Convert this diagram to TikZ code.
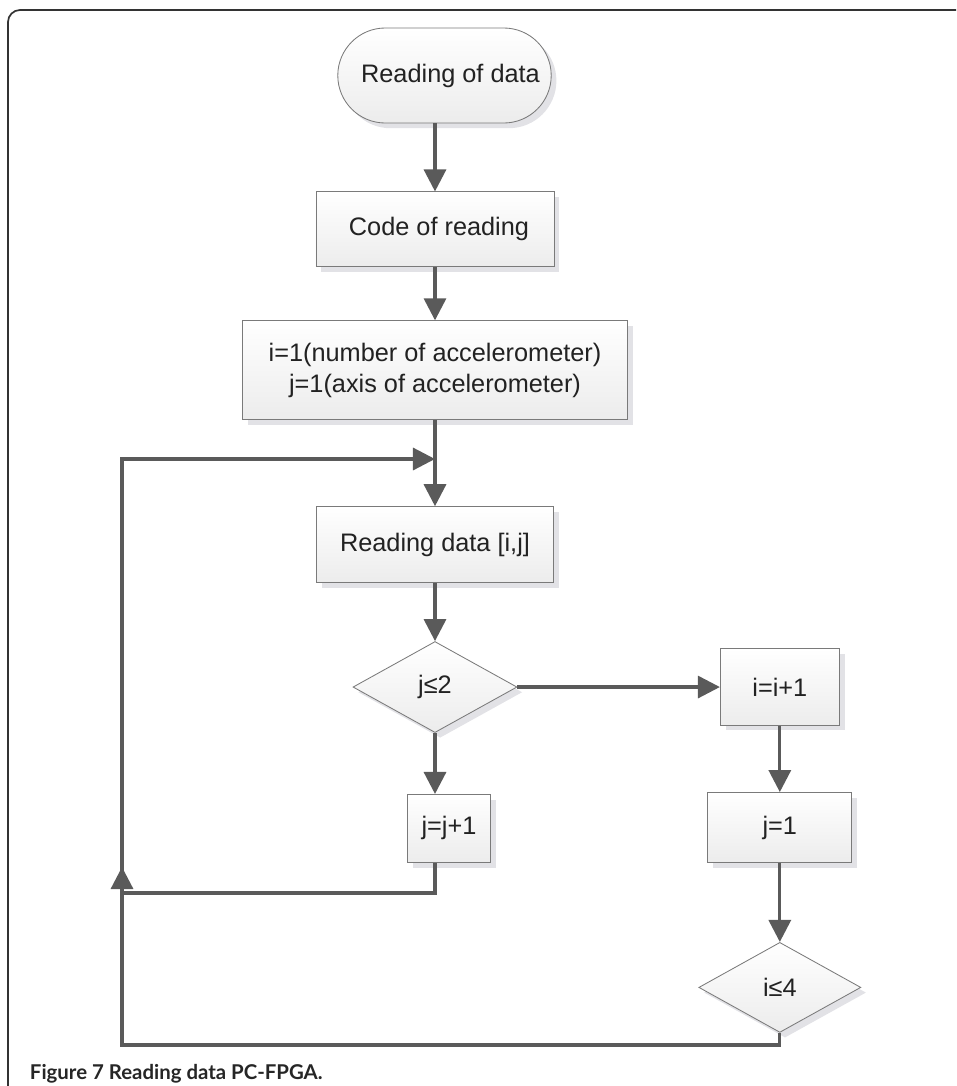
\documentclass[tikz,border=0pt]{standalone}
\usepackage{fontspec}
\setmainfont{Liberation Sans}
\newfontfamily\capfont{Lato}
\usepackage{tikz}
\usetikzlibrary{positioning,shapes.geometric,shapes.misc,shadows,arrows.meta}
\definecolor{linegray}{HTML}{5A5A5A}
\definecolor{boxedge}{HTML}{7A7A7A}
\definecolor{shadegray}{HTML}{ECECEC}
\definecolor{shadowgray}{HTML}{E2E2E6}
\definecolor{textgray}{HTML}{222222}

\begin{document}
\begin{tikzpicture}[x=0.025cm, y=-0.025cm, node distance=1.5cm,
			font=\fontsize{18}{22}\selectfont, text=textgray,
			box base/.style={draw=boxedge, line width=0.6pt, top color=white, bottom color=shadegray,
				align=center, inner sep=2pt,
				drop shadow={shadow xshift=0.13cm, shadow yshift=-0.13cm, fill=shadowgray, opacity=1}},
			proc node/.style={box base, rectangle},
			term node/.style={box base, rounded rectangle},
			dec node/.style={box base, diamond},
			flow line/.style={draw=linegray, line width=2.3pt, -{Triangle[length=5.5mm,width=5.5mm]}}]
			
			\useasboundingbox (0,0) rectangle (956,1086);
			\draw[line width=1.2pt, black!80, rounded corners=0.3cm] (8,1086) -- (8,10) -- (956,10);
			
			\node[term node, minimum width=5.475cm, minimum height=2.375cm] (start) at (444.5,75.5) {\hspace{0.3cm}Reading of data};
			\node[proc node, minimum width=5.95cm, minimum height=1.875cm] (code) [below=1.7cm of start, xshift=-0.2375cm] {\hspace{0.2cm}Code of reading};
			\node[proc node, minimum width=9.625cm, minimum height=2.475cm] (init) [below=1.325cm of code] {i=1(number of accelerometer)\\ j=1(axis of accelerometer)};
			\node[proc node, minimum width=5.925cm, minimum height=1.9cm] (read) [below=2.15cm of init] {Reading data [i,j]};
			\node[dec node, minimum width=4.1cm, minimum height=2.275cm] (jtest) [below=1.45cm of read] {j≤2};
			\node[proc node, minimum width=2.075cm, minimum height=1.7cm] (incj) [below=1.525cm of jtest, xshift=0.35cm] {j=j+1};
			\node[proc node, minimum width=2.975cm, minimum height=1.91cm] (inci) [right=5.06cm of jtest] {i=i+1};
			\node[proc node, minimum width=3.6cm, minimum height=1.75cm] (resetj) [below=1.66cm of inci] {j=1};
			\node[dec node, minimum width=4.05cm, minimum height=2.25cm] (itest) [below=1.975cm of resetj] {i≤4};
			
			\coordinate (upper) at (122,459);
			\coordinate (lower) at (122,893);
			\coordinate (bottom) at (122,1045);
			\coordinate (uptip) at (122,867);
			
			\path[every edge/.style={flow line}]
			(start.south -| code.north) edge (code.north)
			(code.south) edge (init.north)
			(init.south) edge (read.north)
			(read.south) edge (jtest.north)
			
			(jtest.south) edge (jtest.south |- incj.north)
			(jtest.east) edge (inci.west)
			
			(inci.south) edge (resetj.north)
			(resetj.south) edge (itest.north)
			;
			
			% back to the reading of the next value
			\draw[flow line] (incj.south -| jtest.south) |- (lower) -- (upper) -- (upper -| read.north);
			\draw[flow line] (itest.south) |- (bottom) -- (uptip);
			
			\node[anchor=base west, font=\capfont\bfseries\fontsize{14.5}{17}\selectfont, text=black!85] (caption) at (25,1079) {Figure 7 Reading data PC-FPGA.};
			\end{tikzpicture}
\end{document}
